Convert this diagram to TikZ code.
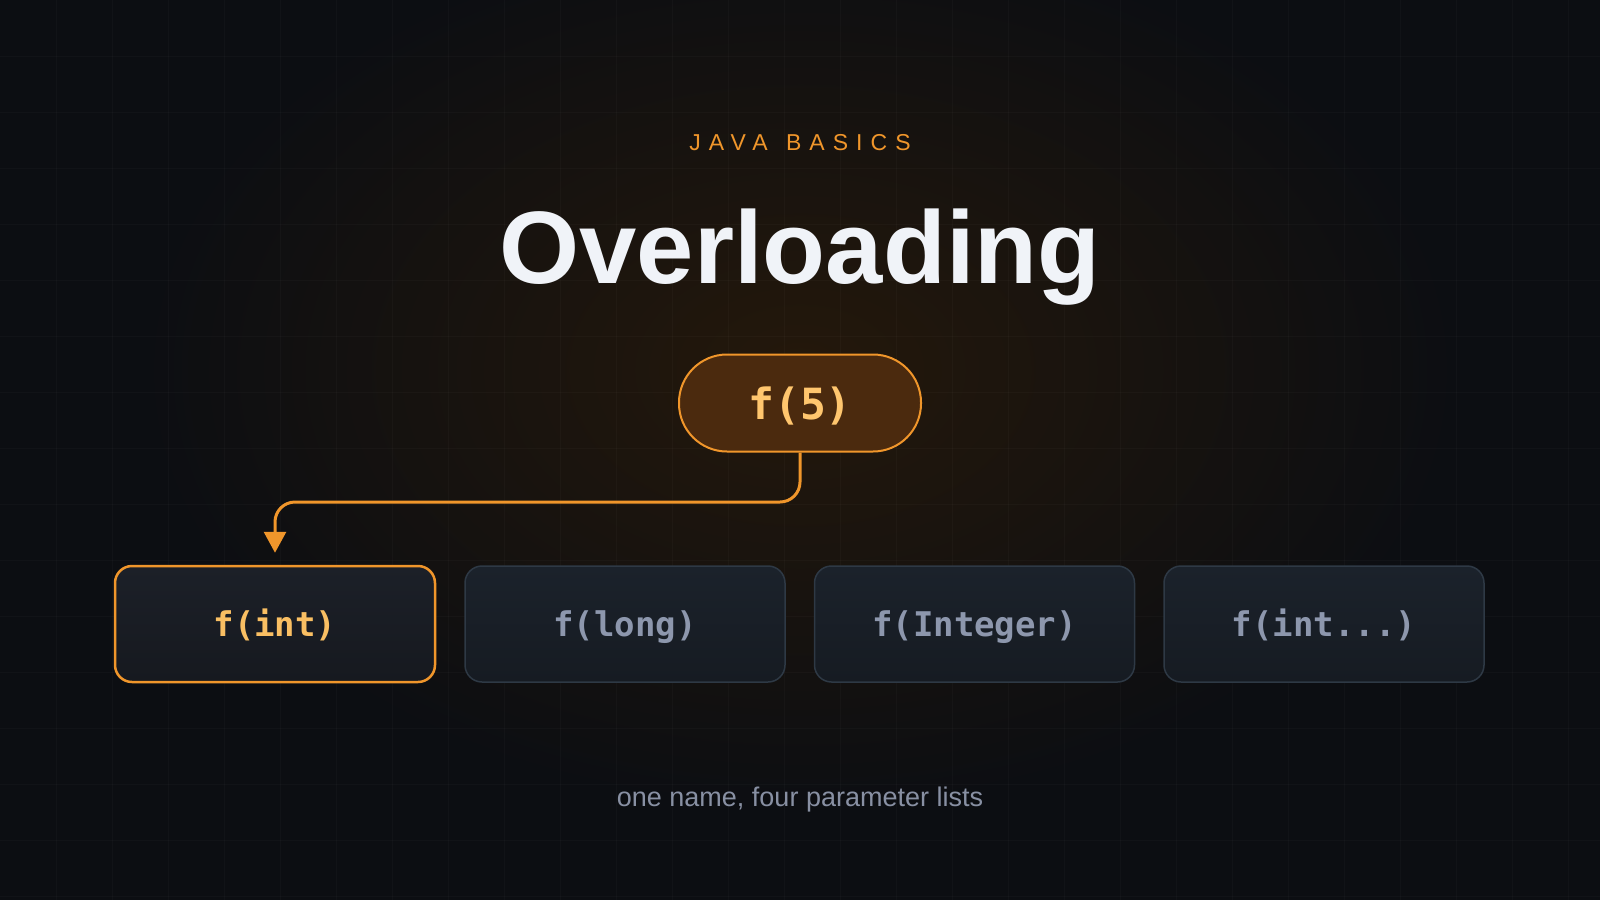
\documentclass[tikz,border=0pt]{standalone}
\usepackage{fontspec}
\setmainfont{Liberation Sans}
\newfontfamily\codefont{DejaVu Sans Mono}
\newfontfamily\trackfont[LetterSpace=35]{Liberation Sans}
\usepackage{tikz}
\usetikzlibrary{arrows.meta, positioning}

\definecolor{bg}{HTML}{0C0E12}
\definecolor{glow}{HTML}{24180B}
\definecolor{accent}{HTML}{F0962B}
\definecolor{pillfill}{HTML}{4B2A0E}
\definecolor{pilltext}{HTML}{FFC66E}
\definecolor{boxtop}{HTML}{1B222B}
\definecolor{boxbottom}{HTML}{161B22}
\definecolor{boxline}{HTML}{2E3945}
\definecolor{boxtext}{HTML}{8D97AD}
\definecolor{picktop}{HTML}{1C2028}
\definecolor{pickbottom}{HTML}{16191F}
\definecolor{picktext}{HTML}{F9BF63}
\definecolor{titletext}{HTML}{F0F3F8}
\definecolor{subtext}{HTML}{8890A3}

\begin{document}
\begin{tikzpicture}[
		x=1pt, y=-1pt,
		gridline/.style={draw=white, draw opacity=0.022, line width=1pt},
		tag/.style={anchor=base, text=accent, font=\trackfont\fontsize{23}{26}\selectfont},
		title/.style={anchor=base, text=titletext, font=\fontsize{103}{110}\selectfont\bfseries},
		subtitle/.style={anchor=base, text=subtext, font=\fontsize{27}{30}\selectfont},
		call/.style={draw=accent, line width=2pt, fill=pillfill, rounded corners=48pt,
			minimum width=242pt, minimum height=97pt, text=pilltext,
			text height=32pt, text depth=0pt,
			font=\codefont\bfseries\fontsize{43}{46}\selectfont},
		overload/.style={draw=boxline, line width=1.5pt, rounded corners=17pt,
			top color=boxtop, bottom color=boxbottom,
			minimum width=320pt, minimum height=116pt, text=boxtext,
			text height=24pt, text depth=0pt,
			font=\codefont\bfseries\fontsize{34}{38}\selectfont},
		picked/.style={overload, draw=accent, line width=2.5pt,
			top color=picktop, bottom color=pickbottom, text=picktext},
		link/.style={draw=accent, line width=3pt, rounded corners=20pt,
			-{Triangle[width=22pt, length=21pt]}},
		node distance=28pt
		]

	% Background
	\useasboundingbox (0,0) rectangle (1600,900);
	\fill[bg] (0,0) rectangle (1600,900);
	\begin{scope}
		\clip (0,0) rectangle (1600,900);
		\shade[inner color=glow, outer color=bg] (800,370) ellipse [x radius=660, y radius=440];
		% Grid
		\foreach \x in {56,112,...,1568}{
			\draw[gridline] (\x,0) -- (\x,900);
		}
		\foreach \y in {56,112,...,896}{
			\draw[gridline] (0,\y) -- (1600,\y);
		}
	\end{scope}

	% Heading
	\node[tag] (tag) at (800,150) {JAVA\hspace{4pt} BASICS};
	\node[title] (title) at (800,283) {Overloading};

	% Call
	\node[call] (call) at (800,403) {f(5)};

	% Overloads
	\node[picked] (int) at (275,624) {f(int)};
	\node[overload, right=of int] (long) {f(long)};
	\node[overload, right=of long] (integer) {f(Integer)};
	\node[overload, right=of integer] (varargs) {f(int...)};

	% Resolution
	\coordinate (bend) at (int.north |- 0,502);
	\draw[link] (call.south) |- (bend) -- ([yshift=12pt]int.north);

	\node[subtitle] (note) at (800,806) {one name, four parameter lists};

\end{tikzpicture}
\end{document}
